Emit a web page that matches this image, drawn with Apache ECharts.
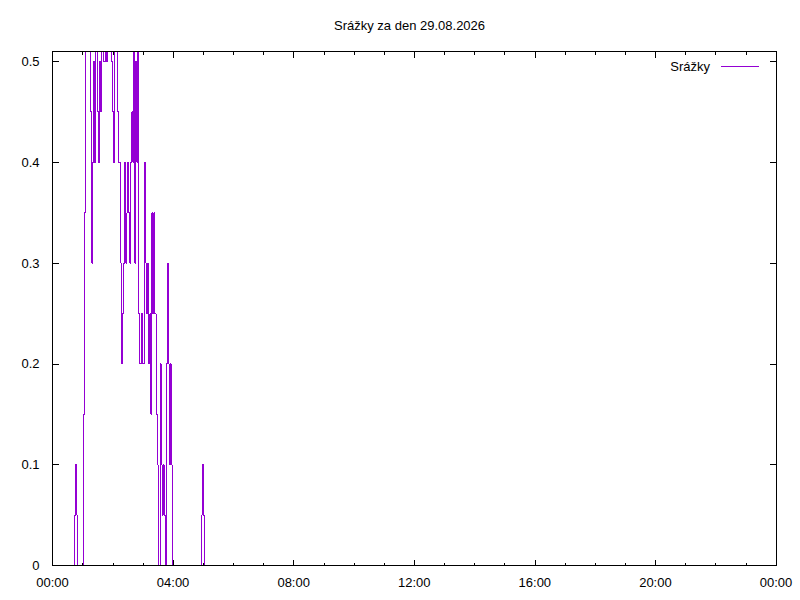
<!DOCTYPE html>
<html>
<head>
<meta charset="utf-8">
<script src="https://cdn.jsdelivr.net/npm/echarts@6/dist/echarts.min.js"></script>
<style>
html,body{margin:0;padding:0;background:#fff;}
#chart{width:800px;height:600px;}
#chart svg path, #chart svg line, #chart svg polyline{shape-rendering:crispEdges;}
</style>
</head>
<body>
<div id="chart"></div>
<script>
// Title and series name
const chartTitle = 'Srážky za den 29.08.2026';
const seriesName = 'Srážky';

// Measurement times (HH:MM) and rainfall values (step changes)
const times = [
  '00:40','00:44','00:46','00:48','00:50','01:02','01:04','01:06','01:16','01:18',
  '01:20','01:22','01:24','01:26','01:30','01:32','01:34','01:36','01:38','01:42',
  '01:46','01:48','01:50','01:58','02:00','02:02','02:04','02:10','02:12','02:16',
  '02:18','02:20','02:22','02:24','02:26','02:28','02:30','02:32','02:34','02:36',
  '02:38','02:40','02:42','02:44','02:46','02:48','02:50','02:52','02:54','02:58',
  '03:00','03:04','03:06','03:08','03:10','03:12','03:14','03:16','03:18','03:20',
  '03:22','03:24','03:26','03:28','03:30','03:34','03:36','03:38','03:40','03:42',
  '03:44','03:46','03:48','03:50','03:52','03:54','03:56','03:58','04:56','04:58',
  '05:00','05:02'
];
const values = [
  0, 0.05, 0.1, 0.05, 0, 0.15, 0.35, 0.55, 0.45, 0.3,
  0.4, 0.5, 0.4, 0.55, 0.45, 0.4, 0.5, 0.45, 0.55, 0.5,
  0.55, 0.5, 0.55, 0.5, 0.45, 0.4, 0.55, 0.45, 0.4, 0.3,
  0.2, 0.25, 0.3, 0.4, 0.3, 0.35, 0.4, 0.35, 0.3, 0.4,
  0.45, 0.4, 0.55, 0.3, 0.5, 0.4, 0.55, 0.25, 0.2, 0.25,
  0.2, 0.4, 0.3, 0.25, 0.3, 0.2, 0.25, 0.15, 0.35, 0.25,
  0.35, 0.25, 0.15, 0.1, 0, 0.2, 0.1, 0.05, 0.1, 0.05,
  0, 0.2, 0.3, 0.2, 0.1, 0.2, 0.1, 0, 0.05, 0.1,
  0.05, 0
];

// Axis settings
const xTickLabels = ['00:00','04:00','08:00','12:00','16:00','20:00','00:00'];
const yTickLabels = ['0','0.1','0.2','0.3','0.4','0.5'];

function toMin(s){ const p = s.split(':'); return (+p[0])*60 + (+p[1]); }
const data = times.map((t,i)=>[toMin(t), values[i]]);

const FONT = 'Liberation Sans, Arial, sans-serif';
const xFmt = v => xTickLabels[Math.round(v/240)] || '';
const yFmt = v => {
  const k = Math.round(v*10);
  return Math.abs(v*10 - k) < 1e-6 ? yTickLabels[k] || '' : '';
};

const chart = echarts.init(document.getElementById('chart'), null, {renderer:'svg'});
const axisLineStyle = {color:'#000', width:1};
chart.setOption({
  animation:false,
  backgroundColor:'#fff',
  title:{
    text: chartTitle,
    left: 334, top: 19, padding: 0,
    textStyle:{fontFamily:FONT, fontSize:13, fontWeight:'normal', color:'#000'}
  },
  legend:{
    data:[seriesName],
    right: 41, top: 60, padding: 0,
    align:'right',
    icon:'rect', itemWidth:38, itemHeight:1,
    textStyle:{fontFamily:FONT, fontSize:13, color:'#000', padding:[0,6,0,0]}
  },
  grid:{left:52.5, right:24, top:51.5, bottom:34.5, containLabel:false},
  xAxis:[{
    type:'value', min:0, max:1440, interval:240, z:5,
    axisLine:{show:true, onZero:false, lineStyle:axisLineStyle},
    axisTick:{show:true, inside:true, length:6, lineStyle:axisLineStyle},
    minorTick:{show:true, splitNumber:4, length:3, lineStyle:axisLineStyle},
    splitLine:{show:false},
    axisLabel:{formatter:xFmt, margin:10, fontFamily:FONT, fontSize:13, color:'#000'}
  },{
    type:'value', position:'top', min:0, max:1440, interval:240, z:5,
    axisLine:{show:true, onZero:false, lineStyle:axisLineStyle},
    axisTick:{show:true, inside:true, length:6, lineStyle:axisLineStyle},
    minorTick:{show:true, splitNumber:4, length:3, lineStyle:axisLineStyle},
    splitLine:{show:false},
    axisLabel:{show:false}
  }],
  yAxis:[{
    type:'value', min:0, max:0.51, interval:0.1, z:5,
    axisLine:{show:true, onZero:false, lineStyle:axisLineStyle},
    axisTick:{show:true, inside:true, length:6, lineStyle:axisLineStyle},
    splitLine:{show:false},
    axisLabel:{formatter:yFmt, margin:13, fontFamily:FONT, fontSize:13, color:'#000', showMaxLabel:false}
  },{
    type:'value', position:'right', min:0, max:0.51, interval:0.1, z:5,
    axisLine:{show:true, onZero:false, lineStyle:axisLineStyle},
    axisTick:{show:true, inside:true, length:6, lineStyle:axisLineStyle},
    splitLine:{show:false},
    axisLabel:{show:false}
  }],
  series:[{
    name: seriesName,
    type:'line',
    step:'end',
    data: data,
    xAxisIndex:0, yAxisIndex:0,
    showSymbol:false, symbol:'none',
    clip:true,
    color:'#9400D3',
    lineStyle:{color:'#9400D3', width:1}
  }]
});
</script>
</body>
</html>
